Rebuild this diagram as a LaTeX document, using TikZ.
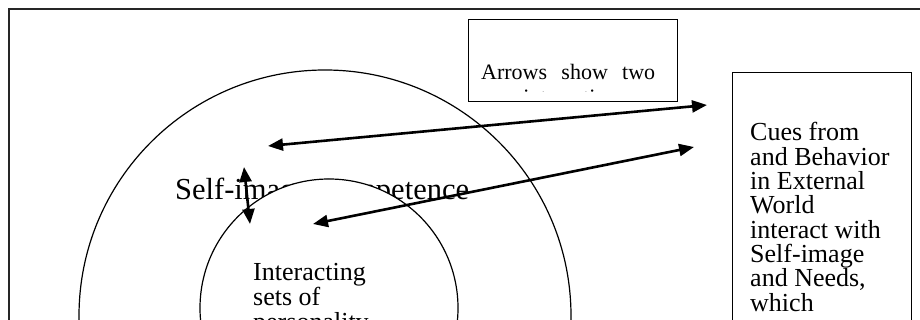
\documentclass[tikz,border=0pt]{standalone}
\usepackage{fontspec}
\setmainfont{Liberation Serif}
\usetikzlibrary{arrows.meta}

\begin{document}
\begin{tikzpicture}[
	x=1pt, y=-1pt,
	ring/.style={ circle, draw, line width=1.2pt, inner sep=0pt },
	box/.style={ rectangle, draw, line width=1.4pt, inner sep=0pt, anchor=north west },
	txt/.style={ anchor=base west, inner sep=0pt, font=\fontsize{26pt}{25pt}\selectfont },
	twoway/.style={ line width=2.6pt, {Triangle[length=15pt,width=12pt]}-{Triangle[length=15pt,width=12pt]} }
]
\useasboundingbox (0,0) rectangle (920,320);
\clip (0,0) rectangle (920,320);

\draw[line width=1.5pt, black!85] (9,9) rectangle (940,340);

% rings, the inner one hides the middle of the label
\node at (325,316) (outer) [ring, minimum size=492pt] {};
\node at (175,200) (selfimg) [txt, font=\fontsize{30.5pt}{30pt}\selectfont] {Self-image Competence};
\node at (329,308) (inner) [ring, fill=white, minimum size=258pt] {};

\foreach \t [count=\i] in {Interacting, sets of, personality}
	\node at (253,{280+25*(\i-1)}) (int\i) [txt] {\t};

% note box, text cut off at its lower margin
\node at (468,19) (note) [box, minimum width=209pt, minimum height=82pt] {};
\begin{scope}
	\clip (470,21) rectangle (675,91.3);
	\node at (481,80) (note1) [txt, font=\fontsize{22pt}{24pt}\selectfont] {\makebox[174pt][s]{Arrows show two}};
	\node at (481,104.5) (note2) [txt, font=\fontsize{22pt}{24pt}\selectfont] {way interaction};
\end{scope}

\node at (732,72) (cues) [box, minimum width=179pt, minimum height=280pt] {};
\foreach \t [count=\i] in {Cues from, and Behavior, in External, World, interact with, Self-image, {and Needs,}, which}
	\node at (750,{141+24.3*(\i-1)}) (cue\i) [txt] {\t};

\coordinate (tipA) at (268,146);
\coordinate (tipB) at (707,105);
\coordinate (tipC) at (313,224);
\coordinate (tipD) at (694,147);
\coordinate (tipE) at (244,167);
\coordinate (tipF) at (250,224);

\draw[twoway] (tipA) to (tipB);
\draw[twoway] (tipC) to (tipD);
\draw[twoway] (tipE) to (tipF);

\end{tikzpicture}
\end{document}
